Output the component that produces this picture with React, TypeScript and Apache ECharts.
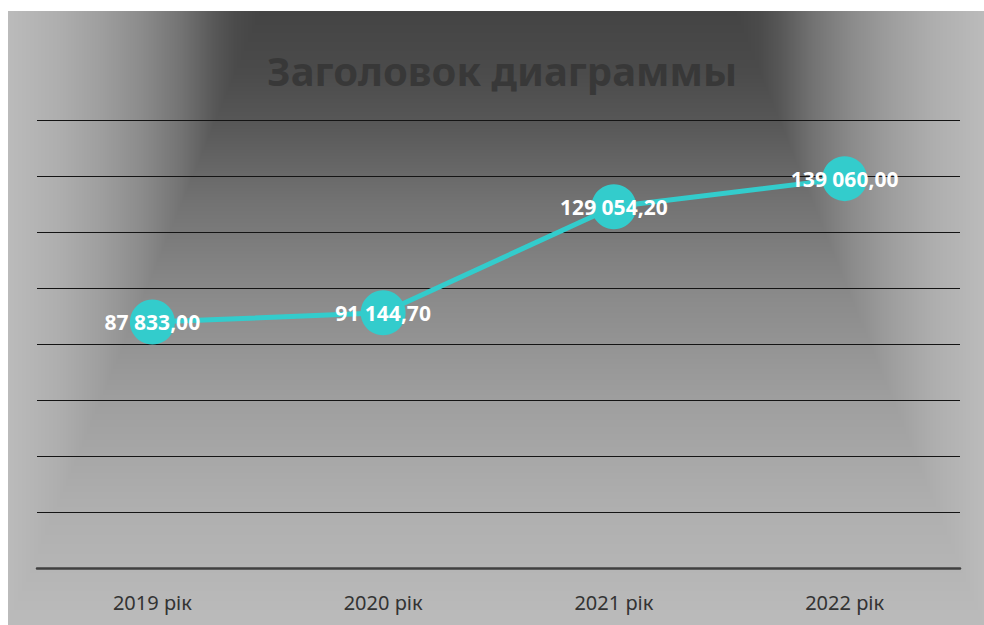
import React, { useEffect, useRef } from "react";
import * as echarts from "echarts";

const categories = ["2019 рік", "2020 рік", "2021 рік", "2022 рік"];
const values = [87833.0, 91144.7, 129054.2, 139060.0];
const titleText = "Заголовок диаграммы";
const yMin = 0;
const yMax = 160000;
const yInterval = 20000;

function fmt(v: number): string {
  const fixed = v.toFixed(2);
  const [intPart, dec] = fixed.split(".");
  const withSep = intPart.replace(/\B(?=(\d{3})+(?!\d))/g, " ");
  return withSep + "," + dec;
}

// Background: rectangular path gradient focused on the top centre
function makeBackground(w: number, h: number): string {
  const c = document.createElement("canvas");
  c.width = w;
  c.height = h;
  const ctx = c.getContext("2d");
  if (!ctx) return "";
  const img = ctx.createImageData(w, h);
  const stops: [number, number][] = [
    [0, 0x44],
    [0.1, 0x4b],
    [0.18, 0x57],
    [0.31, 0x72],
    [0.47, 0x8b],
    [0.63, 0x9e],
    [0.8, 0xae],
    [1.0, 0xbb],
  ];
  const L = 252;
  const R = 727;
  const g = (t: number) => {
    if (t <= 0) return stops[0][1];
    for (let i = 1; i < stops.length; i++) {
      if (t <= stops[i][0]) {
        const [t0, c0] = stops[i - 1];
        const [t1, c1] = stops[i];
        return c0 + ((c1 - c0) * (t - t0)) / (t1 - t0);
      }
    }
    return stops[stops.length - 1][1];
  };
  for (let y = 0; y < h; y++) {
    const dy = y / (h - 1);
    for (let x = 0; x < w; x++) {
      let dx = 0;
      if (x < L) dx = (L - x) / L;
      else if (x > R) dx = (x - R) / (w - 1 - R);
      const t = Math.max(dx, dy);
      const v = Math.round(g(t));
      const i = (y * w + x) * 4;
      img.data[i] = v;
      img.data[i + 1] = v;
      img.data[i + 2] = v;
      img.data[i + 3] = 255;
    }
  }
  ctx.putImageData(img, 0, 0);
  return c.toDataURL("image/png");
}

export default function App() {
  const ref = useRef<HTMLDivElement>(null);

  useEffect(() => {
    if (!ref.current) return;
    const chart = echarts.init(ref.current, null, { renderer: "svg" });
    const bg = makeBackground(976, 614);
    chart.setOption({
      animation: false,
      backgroundColor: "#ffffff",
      graphic: [
        {
          type: "image",
          left: 8,
          top: 11,
          z: -10,
          silent: true,
          style: { image: bg, x: 0, y: 0, width: 976, height: 614 },
        },
      ],
      title: {
        text: titleText,
        left: 262,
        top: 45,
        textStyle: {
          fontFamily: "Noto Sans",
          fontWeight: "bold",
          fontSize: 40,
          color: "#383838",
        },
      },
      grid: { left: 37, right: 24, top: 120, bottom: 57, containLabel: false },
      xAxis: {
        type: "category",
        data: categories,
        boundaryGap: true,
        axisLine: { show: true, lineStyle: { color: "#404040", width: 2.5 } },
        axisTick: { show: false },
        axisLabel: {
          color: "#333333",
          fontFamily: "Noto Sans",
          fontSize: 20,
          margin: 24,
        },
        splitLine: { show: false },
      },
      yAxis: {
        type: "value",
        min: yMin,
        max: yMax,
        interval: yInterval,
        axisLabel: { show: false },
        axisLine: { show: false },
        axisTick: { show: false },
        splitLine: { show: true, lineStyle: { color: "#141414", width: 1 } },
      },
      series: [
        {
          type: "line",
          data: values,
          symbol: "circle",
          symbolSize: 45,
          itemStyle: { color: "#33CCCC" },
          lineStyle: { color: "#33CCCC", width: 5 },
          label: {
            show: true,
            position: "inside",
            formatter: (p: any) => fmt(p.value as number),
            color: "#ffffff",
            fontFamily: "Noto Sans",
            fontWeight: "bold",
            fontSize: 21,
          },
          z: 3,
        },
      ],
    });
    return () => chart.dispose();
  }, []);

  return (
    <div
      ref={ref}
      style={{ position: "absolute", left: 0, top: 0, width: 984, height: 625 }}
    />
  );
}
